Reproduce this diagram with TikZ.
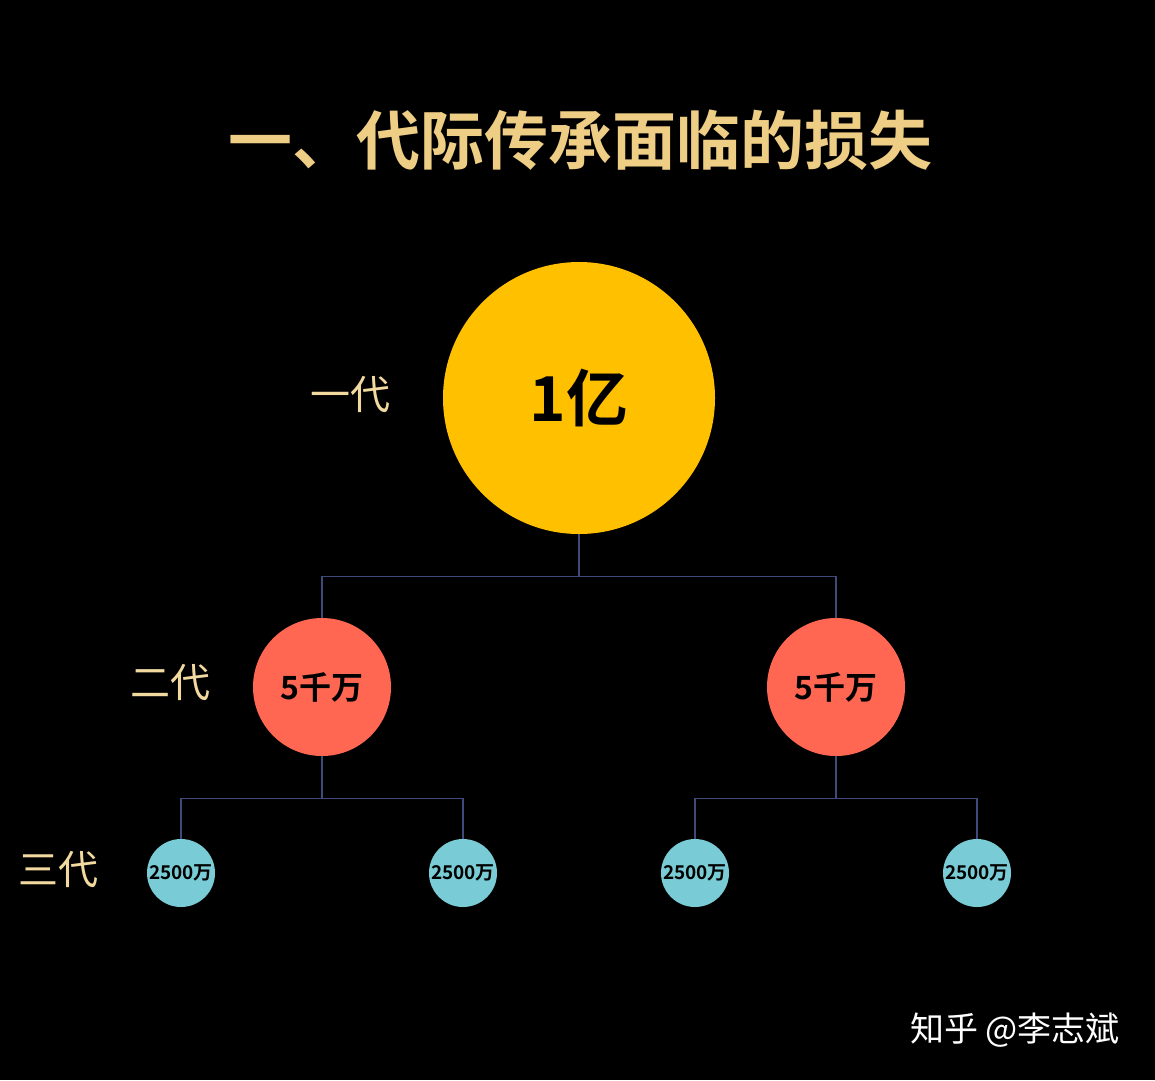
\documentclass[tikz,border=0pt]{standalone}
\usepackage{fontspec}
\setmainfont{Noto Sans CJK SC}
\newfontfamily\cjkb{Noto Sans CJK SC Bold}
\begin{document}
\begin{tikzpicture}[x=1pt,y=-1pt,
  gen/.style={text=gentxt,font=\fontsize{40}{40}\selectfont},
  conn/.style={draw=connc,line width=1.2pt},
  big/.style={circle,fill=gold,minimum size=272pt,inner sep=0pt,font=\cjkb\fontsize{62}{62}\selectfont},
  mid/.style={circle,fill=coral,minimum size=138pt,inner sep=0pt,font=\cjkb\fontsize{32}{32}\selectfont},
  small/.style={circle,fill=teal,minimum size=68pt,inner sep=0pt,font=\cjkb\fontsize{19}{19}\selectfont}]
\definecolor{gold}{HTML}{FFC000}
\definecolor{coral}{HTML}{FF6752}
\definecolor{teal}{HTML}{79CCD5}
\definecolor{gentxt}{HTML}{F2D9A0}
\definecolor{titlec}{HTML}{EECD85}
\definecolor{connc}{HTML}{3E4B7A}
\fill[black] (0,0) rectangle (1155,1080);
\useasboundingbox (0,0) rectangle (1155,1080);
\node[text=titlec,font=\cjkb\fontsize{64}{64}\selectfont] (title) at (580,140) {一、代际传承面临的损失};
\node[big] (a) at (579,398) {1亿};
\node[mid] (b1) at (322,687) {5千万};
\node[mid] (b2) at (836,687) {5千万};
\node[small] (c1) at (181,873) {2500万};
\node[small] (c2) at (463,873) {2500万};
\node[small] (c3) at (695,873) {2500万};
\node[small] (c4) at (977,873) {2500万};
\node[gen] (g1) at (350,395) {一代};
\node[gen] (g2) at (170,683) {二代};
\node[gen] (g3) at (58,870) {三代};
\node[text=white,font=\fontsize{34}{34}\selectfont] (wm) at (1015,1030) {知乎 @李志斌};
\draw[conn] (a.south) -- ++(0,42) -| (b1.north);
\draw[conn] (a.south) ++(0,42) -| (b2.north);
\draw[conn] (b1.south) -- ++(0,42) -| (c1.north);
\draw[conn] (b1.south) ++(0,42) -| (c2.north);
\draw[conn] (b2.south) -- ++(0,42) -| (c3.north);
\draw[conn] (b2.south) ++(0,42) -| (c4.north);
\end{tikzpicture}
\end{document}
